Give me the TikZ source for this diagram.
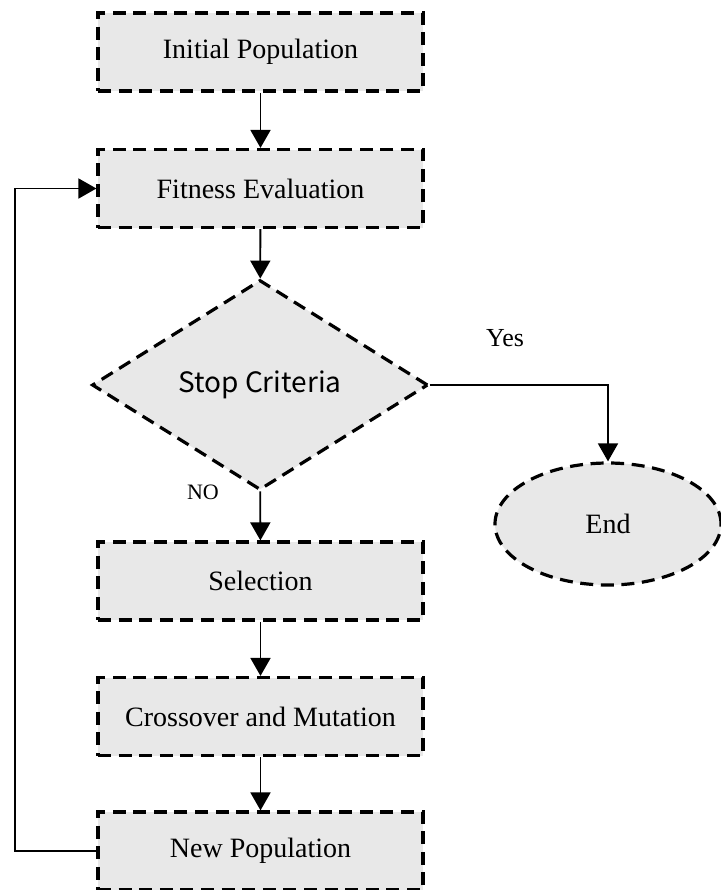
\documentclass[tikz,border=0pt]{standalone}
\usepackage{xcolor}
\usepackage{fontspec}
\setmainfont{Liberation Serif}
\newfontfamily\krfont{Noto Sans CJK KR}
\usepackage{tikz}
\usetikzlibrary{shapes,arrows,positioning,calc,arrows.meta}
\definecolor{boxfill}{HTML}{E8E8E8}

\begin{document}
\begin{tikzpicture}[x=0.5pt, y=-0.5pt,
    stage/.style={draw, fill=boxfill, line width=1.6pt, dash pattern=on 6.5pt off 3.8pt,
        minimum width=162.5pt, minimum height=39pt, font=\fontsize{14}{16}\selectfont},
    check/.style={stage, diamond, minimum width=168pt, minimum height=105pt, inner sep=0pt,
        font=\krfont\fontsize{14}{16}\selectfont},
    finish/.style={stage, ellipse, minimum width=113pt, minimum height=61pt},
    flow/.style={line width=0.9pt, -{Triangle[length=9pt,width=10pt]}}]
    \useasboundingbox (0,0) rectangle (721,890);

    % Stages
    \node[stage] (init) at (260.5,52) {Initial Population};
    \node[stage] (fit) at (260.5,188.5) {Fitness Evaluation};
    \node[check] (stop) at (260,385) {\raisebox{-2pt}{Stop Criteria}};
    \node[stage] (sel) at (260.5,581) {Selection};
    \node[stage] (cross) at (260.5,716.5) {Crossover and Mutation};
    \node[stage] (newpop) at (260.5,851) {New Population};
    \node[finish] (end) at (608,524) {End};

    % Labels
    \node[font=\fontsize{13}{15}\selectfont] (yes) at (505,338) {Yes};
    \node[font=\fontsize{11}{13}\selectfont] (no) at (203,492) {NO};

    % Main flow
    \foreach \a/\b in {init/fit, fit/stop, stop/sel, sel/cross, cross/newpop}
        \draw[flow] (\a) -- (\b);
    \draw[flow] (stop.east) -| (end.north);

    % Loop back
    \coordinate (loop) at (15,0);
    \draw[flow] (newpop.west) -- (newpop.west -| loop) |- (fit.west);
\end{tikzpicture}
\end{document}
